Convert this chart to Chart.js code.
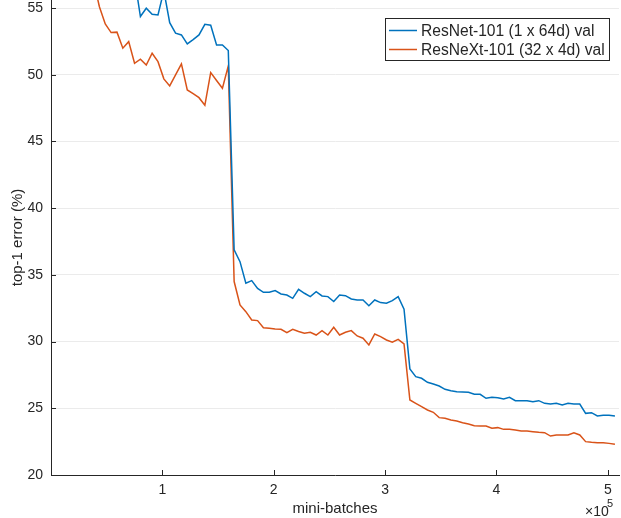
<!DOCTYPE html>
<html>
<head>
<meta charset="utf-8">
<script src="https://cdn.jsdelivr.net/npm/chart.js"></script>
<style>
  html, body { margin: 0; padding: 0; background: #fff; }
  #wrap { width: 621px; height: 518px; }
</style>
</head>
<body>
<div id="wrap"><canvas id="chart" width="621" height="518"></canvas></div>
<script>
// validation every X_STEP mini-batches, first point at X_START
const X_START = 38200;
const X_STEP = 5260;

const seriesNames = ['ResNet-101 (1 x 64d) val', 'ResNeXt-101 (32 x 4d) val'];
const seriesColors = ['#0072BD', '#D95319'];

const resnetErr = [
  null, null, null, null, null, null, null,
  57.2, 54.36, 54.98, 54.53, 54.48, 56.3,
  53.9, 53.11, 52.98, 52.31, 52.63, 52.98, 53.78, 53.71, 52.23, 52.23, 51.81,
  36.87, 35.99, 34.37, 34.57, 33.99, 33.69, 33.69, 33.82, 33.57, 33.49, 33.24, 33.92, 33.62, 33.37, 33.74,
  33.42, 33.37, 33.0, 33.49, 33.44, 33.19, 33.12, 33.12, 32.69, 33.12, 32.92, 32.87, 33.07, 33.37, 32.42,
  27.95, 27.37, 27.25, 26.95, 26.82, 26.67, 26.42, 26.32, 26.24, 26.22, 26.20, 26.05, 26.05, 25.75,
  25.82, 25.79, 25.70, 25.82, 25.57, 25.57, 25.57, 25.49, 25.57, 25.37, 25.32, 25.37, 25.25, 25.37,
  25.32, 25.32, 24.62, 24.67, 24.42, 24.47, 24.47, 24.42
];

const resnextErr = [
  57.0,
  55.1, 53.8, 53.16, 53.19, 51.99, 52.48, 50.86, 51.16, 50.73, 51.61, 50.98, 49.69,
  49.16, 49.99, 50.81, 48.86, 48.58, 48.28, 47.71, 50.16, 49.57, 48.99, 50.66,
  34.5, 32.74, 32.24, 31.62, 31.57, 31.04, 30.99, 30.94, 30.92, 30.67, 30.92, 30.75, 30.62, 30.70, 30.49,
  30.82, 30.49, 31.07, 30.49, 30.70, 30.82, 30.42, 30.25, 29.75, 30.57, 30.37, 30.12, 29.95, 30.17, 29.82,
  25.62, 25.37, 25.12, 24.87, 24.70, 24.30, 24.25, 24.12, 24.05, 23.92, 23.82, 23.70, 23.67, 23.67,
  23.50, 23.55, 23.42, 23.42, 23.37, 23.30, 23.30, 23.25, 23.20, 23.17, 22.92, 23.0, 23.0, 23.0,
  23.17, 23.0, 22.50, 22.45, 22.42, 22.42, 22.37, 22.30
];

const xTicks = [100000, 200000, 300000, 400000, 500000];
const yTicks = [20, 25, 30, 35, 40, 45, 50, 55];

const FONT = "'Liberation Sans', Arial, Helvetica, sans-serif";
const AXIS_COLOR = '#262626';

function toPoints(values) {
  return values.map((v, i) => ({ x: X_START + i * X_STEP, y: v }));
}

// matlab look: inward ticks, floating legend, x10^5 exponent
const matlabBits = {
  id: 'matlabBits',
  afterDraw(chart) {
    const ctx = chart.ctx;
    const xs = chart.scales.x, ys = chart.scales.y;
    const area = chart.chartArea;
    ctx.save();
    ctx.strokeStyle = AXIS_COLOR;
    ctx.lineWidth = 1;
    ctx.beginPath();
    xTicks.forEach(t => {
      const px = Math.round(xs.getPixelForValue(t)) + 0.5;
      ctx.moveTo(px, area.bottom);
      ctx.lineTo(px, area.bottom - 5);
    });
    yTicks.forEach(t => {
      const py = Math.round(ys.getPixelForValue(t)) + 0.5;
      ctx.moveTo(area.left, py);
      ctx.lineTo(area.left + 5, py);
    });
    ctx.stroke();

    // legend
    const lx = 385.5, ly = 18.5, lw = 224, lh = 42;
    ctx.fillStyle = '#fff';
    ctx.fillRect(lx, ly, lw, lh);
    ctx.strokeStyle = AXIS_COLOR;
    ctx.strokeRect(lx, ly, lw, lh);
    ctx.font = '15.6px ' + FONT;
    ctx.textBaseline = 'middle';
    ctx.textAlign = 'left';
    const rows = [30.5, 49.5];
    seriesNames.forEach((name, i) => {
      ctx.strokeStyle = seriesColors[i];
      ctx.lineWidth = 1.5;
      ctx.beginPath();
      ctx.moveTo(389, rows[i]);
      ctx.lineTo(417, rows[i]);
      ctx.stroke();
      ctx.fillStyle = AXIS_COLOR;
      ctx.fillText(name, 421, rows[i] + 1);
    });

    // exponent
    ctx.fillStyle = AXIS_COLOR;
    ctx.font = '14px ' + FONT;
    ctx.textBaseline = 'alphabetic';
    ctx.fillText('\u00d710', 585, 516);
    ctx.font = '11px ' + FONT;
    ctx.fillText('5', 607, 507);
    ctx.restore();
  }
};

new Chart(document.getElementById('chart'), {
  type: 'line',
  data: {
    datasets: [
      {
        label: seriesNames[0],
        data: toPoints(resnetErr),
        borderColor: seriesColors[0],
        borderWidth: 1.5,
        pointRadius: 0,
        tension: 0,
        spanGaps: false
      },
      {
        label: seriesNames[1],
        data: toPoints(resnextErr),
        borderColor: seriesColors[1],
        borderWidth: 1.5,
        pointRadius: 0,
        tension: 0
      }
    ]
  },
  options: {
    responsive: false,
    animation: false,
    layout: { padding: { top: 0, right: 2, left: 0, bottom: 0 } },
    plugins: {
      legend: { display: false },
      tooltip: { enabled: false }
    },
    scales: {
      x: {
        type: 'linear',
        min: 0,
        max: 510000,
        afterBuildTicks: scale => { scale.ticks = xTicks.map(v => ({ value: v })); },
        afterFit: scale => {
          scale.height = 43;
          scale.paddingLeft = 0;
          scale.paddingRight = 0;
        },
        grid: { display: false, drawTicks: false },
        border: { display: true, color: AXIS_COLOR, width: 1 },
        ticks: {
          color: AXIS_COLOR,
          font: { family: FONT, size: 14 },
          padding: 7,
          maxRotation: 0,
          callback: v => String(v / 100000)
        },
        title: {
          display: true,
          text: 'mini-batches',
          color: AXIS_COLOR,
          font: { family: FONT, size: 15 },
          padding: { top: 0, bottom: 0 }
        }
      },
      y: {
        min: 20,
        max: 55.6,
        afterBuildTicks: scale => { scale.ticks = yTicks.map(v => ({ value: v })); },
        afterFit: scale => {
          scale.width = 51;
          scale.paddingTop = 0;
          scale.paddingBottom = 0;
        },
        grid: { color: '#ebebeb', drawTicks: false },
        border: { display: true, color: AXIS_COLOR, width: 1 },
        ticks: {
          color: AXIS_COLOR,
          font: { family: FONT, size: 14 },
          padding: 8
        },
        title: {
          display: true,
          text: 'top-1 error (%)',
          color: AXIS_COLOR,
          font: { family: FONT, size: 15 },
          padding: { top: 9, bottom: 0 }
        }
      }
    }
  },
  plugins: [matlabBits]
});
</script>
</body>
</html>
